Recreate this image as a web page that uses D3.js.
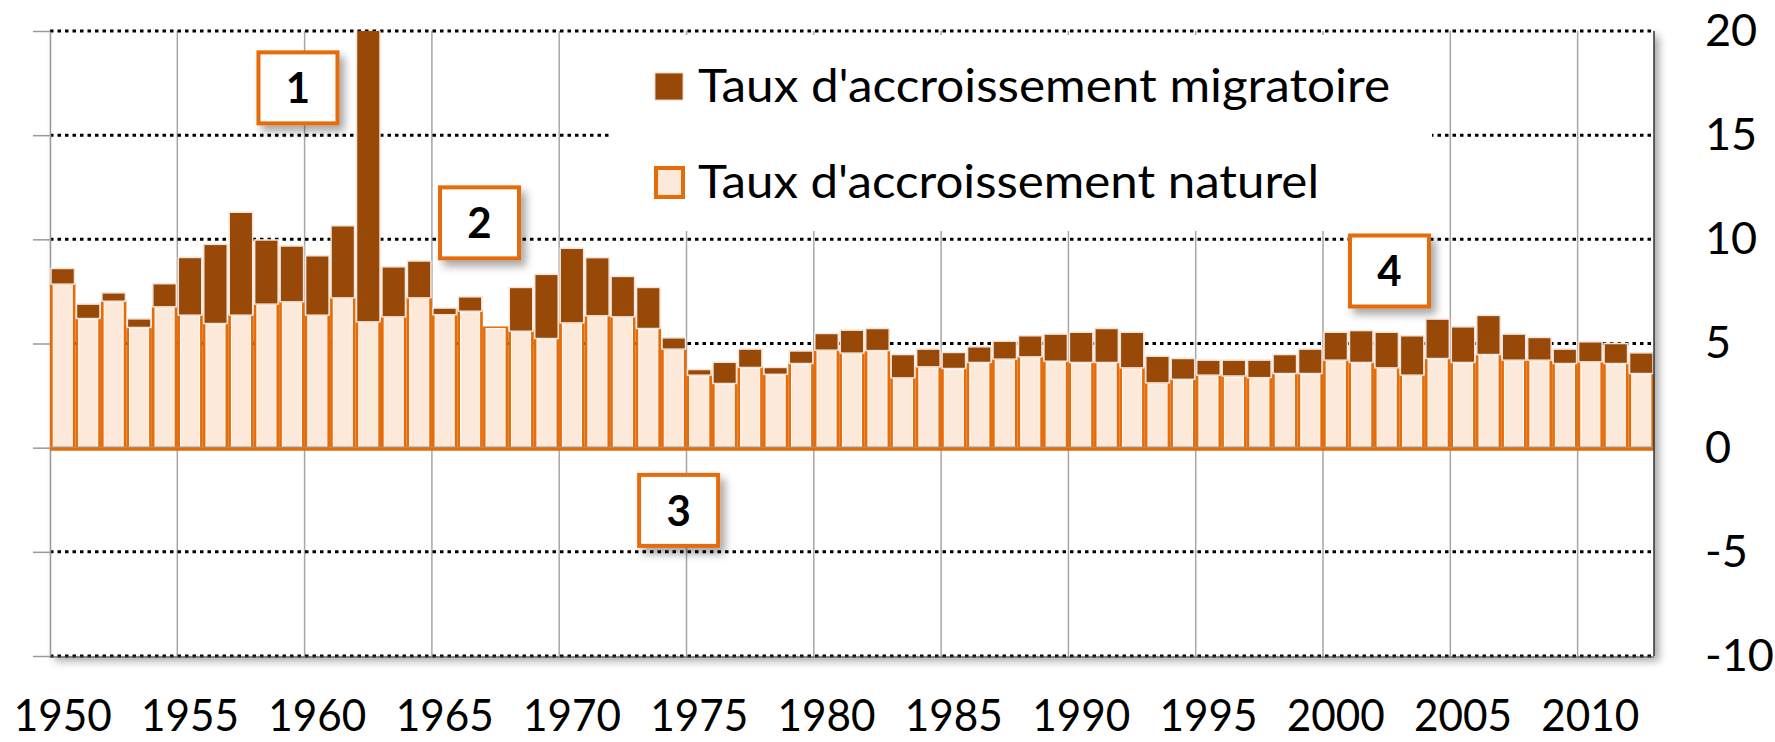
<!DOCTYPE html>
<html><head><meta charset="utf-8">
<script src="https://cdn.jsdelivr.net/npm/d3@7"></script>
<style>
html,body{margin:0;padding:0;background:#fff;}
svg{display:block;font-family:Lato,"Open Sans",sans-serif;}
</style></head>
<body>
<svg id="chart" width="1775" height="742"></svg>
<script>
// ---------- DATA ----------
const years = [1950,1951,1952,1953,1954,1955,1956,1957,1958,1959,1960,1961,1962,1963,1964,1965,1966,1967,1968,1969,
1970,1971,1972,1973,1974,1975,1976,1977,1978,1979,1980,1981,1982,1983,1984,1985,1986,1987,1988,1989,
1990,1991,1992,1993,1994,1995,1996,1997,1998,1999,2000,2001,2002,2003,2004,2005,2006,2007,2008,2009,
2010,2011,2012];
// Taux d'accroissement naturel (pour mille)
const naturel = [7.85,6.20,7.03,5.77,6.76,6.36,5.96,6.36,6.89,7.00,6.36,7.19,6.04,6.28,7.19,6.38,6.55,5.77,5.59,5.24,
5.99,6.33,6.28,5.72,4.73,3.48,3.08,3.85,3.52,4.04,4.68,4.54,4.66,3.35,3.88,3.80,4.09,4.25,4.36,4.15,
4.09,4.09,3.83,3.11,3.28,3.48,3.44,3.36,3.56,3.56,4.20,4.09,3.83,3.48,4.28,4.09,4.47,4.20,4.20,4.04,
4.12,4.04,3.56];
// Taux d'accroissement migratoire (pour mille)
const migratoire = [0.75,0.69,0.40,0.41,1.11,2.77,3.80,4.94,3.08,2.68,2.85,3.46,18.3,2.40,1.77,0.32,0.69,0.02,2.10,3.08,
3.58,2.79,1.94,1.97,0.54,0.27,1.02,0.88,0.33,0.60,0.80,1.10,1.06,1.12,0.85,0.77,0.75,0.86,1.01,1.30,
1.45,1.63,1.71,1.28,1.00,0.72,0.76,0.84,0.91,1.17,1.34,1.53,1.71,1.89,1.89,1.71,1.88,1.25,1.09,0.69,
0.96,0.96,0.99];
const yTicks = [-10,-5,0,5,10,15,20];
const xLabels = [1950,1955,1960,1965,1970,1975,1980,1985,1990,1995,2000,2005,2010];
const seriesNames = ["Taux d'accroissement migratoire","Taux d'accroissement naturel"];
const notes = [
  {label:"1", year:1959.74, value:17.27},
  {label:"2", year:1966.87, value:10.79},
  {label:"3", year:1974.69, value:-3.01},
  {label:"4", year:2002.61, value:8.48}
];

// ---------- STYLE ----------
const C_ORANGE = "#E46C0A", C_PEACH = "#FDE9D9", C_DARK = "#984807";
const L = 50, R = 1654, T = 31, B = 656;

const svg = d3.select("#chart");
const defs = svg.append("defs");
const f1 = defs.append("filter").attr("id","plotShadow").attr("x","-5%").attr("y","-5%").attr("width","110%").attr("height","115%");
f1.append("feDropShadow").attr("dx",5).attr("dy",5).attr("stdDeviation",4).attr("flood-color","#000").attr("flood-opacity",0.35);
const f2 = defs.append("filter").attr("id","boxShadow").attr("x","-30%").attr("y","-30%").attr("width","160%").attr("height","160%");
f2.append("feDropShadow").attr("dx",5).attr("dy",6).attr("stdDeviation",4).attr("flood-color","#000").attr("flood-opacity",0.35);
defs.append("clipPath").attr("id","plotClip").append("rect").attr("x",L).attr("y",T).attr("width",R-L).attr("height",B-T);

const x = d3.scaleBand().domain(years).range([L,R]).padding(0);
const xl = d3.scaleLinear().domain([years[0], years[years.length-1]+1]).range([L,R]);
const y = d3.scaleLinear().domain([-10,20]).range([B,T]);
const bw = x.bandwidth();

// plot background with shadow
svg.append("rect").attr("x",L).attr("y",T).attr("width",R-L).attr("height",B-T)
  .attr("fill","#fff").attr("filter","url(#plotShadow)");

// vertical gridlines at 5-year boundaries
svg.append("g").selectAll("line").data(xLabels.slice(1)).join("line")
  .attr("x1",d=>x(d)).attr("x2",d=>x(d)).attr("y1",T).attr("y2",B)
  .attr("stroke","#a6a6a6").attr("stroke-width",1.5);

// horizontal dotted gridlines
svg.append("g").selectAll("line").data(yTicks.filter(d=>d!==0)).join("line")
  .attr("x1",L).attr("x2",R).attr("y1",d=>y(d)).attr("y2",d=>y(d))
  .attr("stroke","#000").attr("stroke-width",3).attr("stroke-dasharray","3.5,4");
svg.append("line").attr("x1",L).attr("x2",R).attr("y1",y(-10)+1).attr("y2",y(-10)+1)
  .attr("stroke","#555").attr("stroke-width",1);

// left axis (ticks only)
svg.append("g").attr("transform",`translate(${L},0)`)
  .call(d3.axisLeft(y).tickValues(yTicks).tickSize(17).tickSizeOuter(0).tickFormat(""))
  .call(g=>g.selectAll("line").attr("stroke","#999").attr("stroke-width",1.5))
  .call(g=>g.select(".domain").attr("stroke","#999").attr("stroke-width",1.5));

// bars
const bars = svg.append("g").attr("clip-path","url(#plotClip)");
const rows = years.map((yr,i)=>({year:yr, nat:naturel[i], mig:migratoire[i]}));
bars.selectAll("rect.natO").data(rows).join("rect").attr("class","natO")
  .attr("x",d=>x(d.year)).attr("width",bw)
  .attr("y",d=>y(d.nat)-1).attr("height",d=>y(0)-y(d.nat)+1)
  .attr("fill",C_ORANGE);
bars.selectAll("rect.natI").data(rows).join("rect").attr("class","natI")
  .attr("x",d=>x(d.year)+3.2).attr("width",bw-6.4)
  .attr("y",d=>y(d.nat)+1).attr("height",d=>Math.max(0,y(0)-y(d.nat)-2))
  .attr("fill",C_PEACH).attr("stroke","#fff").attr("stroke-width",1);
bars.selectAll("rect.mig").data(rows.filter(d=>d.mig>0.05)).join("rect").attr("class","mig")
  .attr("x",d=>x(d.year)+1).attr("width",bw-2)
  .attr("y",d=>y(d.nat+d.mig)).attr("height",d=>y(d.nat)-y(d.nat+d.mig))
  .attr("fill",C_DARK).attr("stroke","#f3e3d8").attr("stroke-width",1.5);

// zero line
svg.append("line").attr("x1",L).attr("x2",R).attr("y1",y(0)+1).attr("y2",y(0)+1)
  .attr("stroke",C_ORANGE).attr("stroke-width",4);
svg.append("line").attr("x1",L).attr("x2",R).attr("y1",y(0)-0.5).attr("y2",y(0)-0.5)
  .attr("stroke","#999").attr("stroke-width",1);

// right border
svg.append("line").attr("x1",R).attr("x2",R).attr("y1",T).attr("y2",B)
  .attr("stroke","#333").attr("stroke-width",1.5);

// y labels (right)
svg.append("g").attr("transform",`translate(1705,0)`)
  .call(d3.axisRight(y).tickValues(yTicks).tickSize(0).tickPadding(0).tickFormat(d=>d))
  .call(g=>g.select(".domain").remove())
  .call(g=>g.selectAll("text").attr("font-family","Lato, sans-serif").attr("font-size",45).attr("fill","#000").attr("text-anchor","start"));

// x labels
svg.append("g").attr("transform",`translate(0,700)`)
  .call(d3.axisBottom(x).tickValues(xLabels).tickSize(0).tickPadding(0))
  .call(g=>g.select(".domain").remove())
  .call(g=>g.selectAll("text").attr("font-family","Lato, sans-serif").attr("font-size",44).attr("fill","#000")
     .attr("textLength",98).attr("lengthAdjust","spacingAndGlyphs"));

// legend
const lg = svg.append("g");
lg.append("rect").attr("x",611).attr("y",35).attr("width",821).attr("height",196).attr("fill","#fff");
lg.append("rect").attr("x",655).attr("y",73).attr("width",28).attr("height",27).attr("fill",C_DARK).attr("stroke","#e8cfc0").attr("stroke-width",1);
lg.append("rect").attr("x",656).attr("y",168).attr("width",27).attr("height",29).attr("fill",C_PEACH).attr("stroke",C_ORANGE).attr("stroke-width",4);
lg.append("text").attr("x",698).attr("y",102).attr("font-size",46).attr("fill","#000")
  .attr("textLength",692).attr("lengthAdjust","spacingAndGlyphs").text(seriesNames[0]);
lg.append("text").attr("x",698).attr("y",198).attr("font-size",46).attr("fill","#000")
  .attr("textLength",621).attr("lengthAdjust","spacingAndGlyphs").text(seriesNames[1]);

// callout boxes
const bwBox = 79, bhBox = 71;
const ng = svg.append("g").selectAll("g").data(notes).join("g")
  .attr("transform",d=>`translate(${xl(d.year)},${y(d.value)})`);
ng.append("rect").attr("x",-bwBox/2).attr("y",-bhBox/2).attr("width",bwBox).attr("height",bhBox)
  .attr("fill","#fff").attr("stroke",C_ORANGE).attr("stroke-width",4).attr("filter","url(#boxShadow)");
ng.append("text").attr("text-anchor","middle").attr("dy","0.36em")
  .attr("font-size",42).attr("font-weight","bold").attr("fill","#000").text(d=>d.label);
</script>
</body></html>
